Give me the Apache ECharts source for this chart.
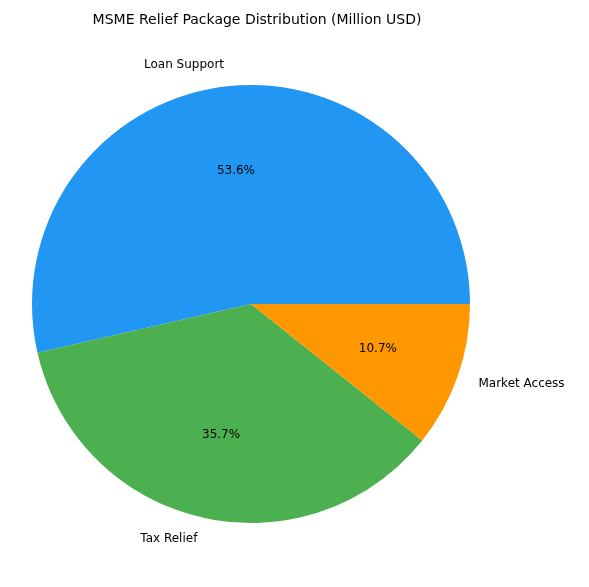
<!DOCTYPE html>
<html><head><meta charset="utf-8">
<script src="https://cdn.jsdelivr.net/npm/echarts@6/dist/echarts.min.js"></script>
<style>html,body{margin:0;padding:0;background:#fff}#c{width:589px;height:587px}</style>
</head><body><div id="c"></div>
<script>
const categories = ["Loan Support", "Tax Relief", "Market Access"];
const values = [150, 100, 30];
const colors = ["#2196F3", "#4CAF50", "#FF9800"];
const total = values.reduce((a,b)=>a+b,0);
const data = categories.map((n,i)=>({name:n, value:values[i], itemStyle:{color:colors[i]}}));
const R = 219, C = [251, 304];
const chart = echarts.init(document.getElementById('c'));
chart.setOption({
  animation:false,
  title:{text:"MSME Relief Package Distribution (Million USD)", left:252, top:8, textAlign:'center',
    textStyle:{fontFamily:'DejaVu Sans', fontSize:14, fontWeight:'normal', color:'#000'}},
  series:[
    {type:'pie', center:C, radius:[0,R], startAngle:0, clockwise:false, data:data,
     label:{show:true, position:'outside', formatter:'{b}', fontFamily:'DejaVu Sans', fontSize:12, color:'#000', distanceToLabelLine:0},
     labelLine:{show:false, length:22, length2:0}, emphasis:{disabled:true}},
    {type:'pie', center:C, radius:[0.2*R,R], startAngle:0, clockwise:false, silent:true,
     data:categories.map((n,i)=>({name:n, value:values[i]})),
     itemStyle:{color:'rgba(0,0,0,0)'},
     label:{show:true, position:'inner', formatter:p=>(p.value/total*100).toFixed(1)+'%', fontFamily:'DejaVu Sans', fontSize:12, color:'#000'},
     labelLine:{show:false}}
  ]
});
</script></body></html>
